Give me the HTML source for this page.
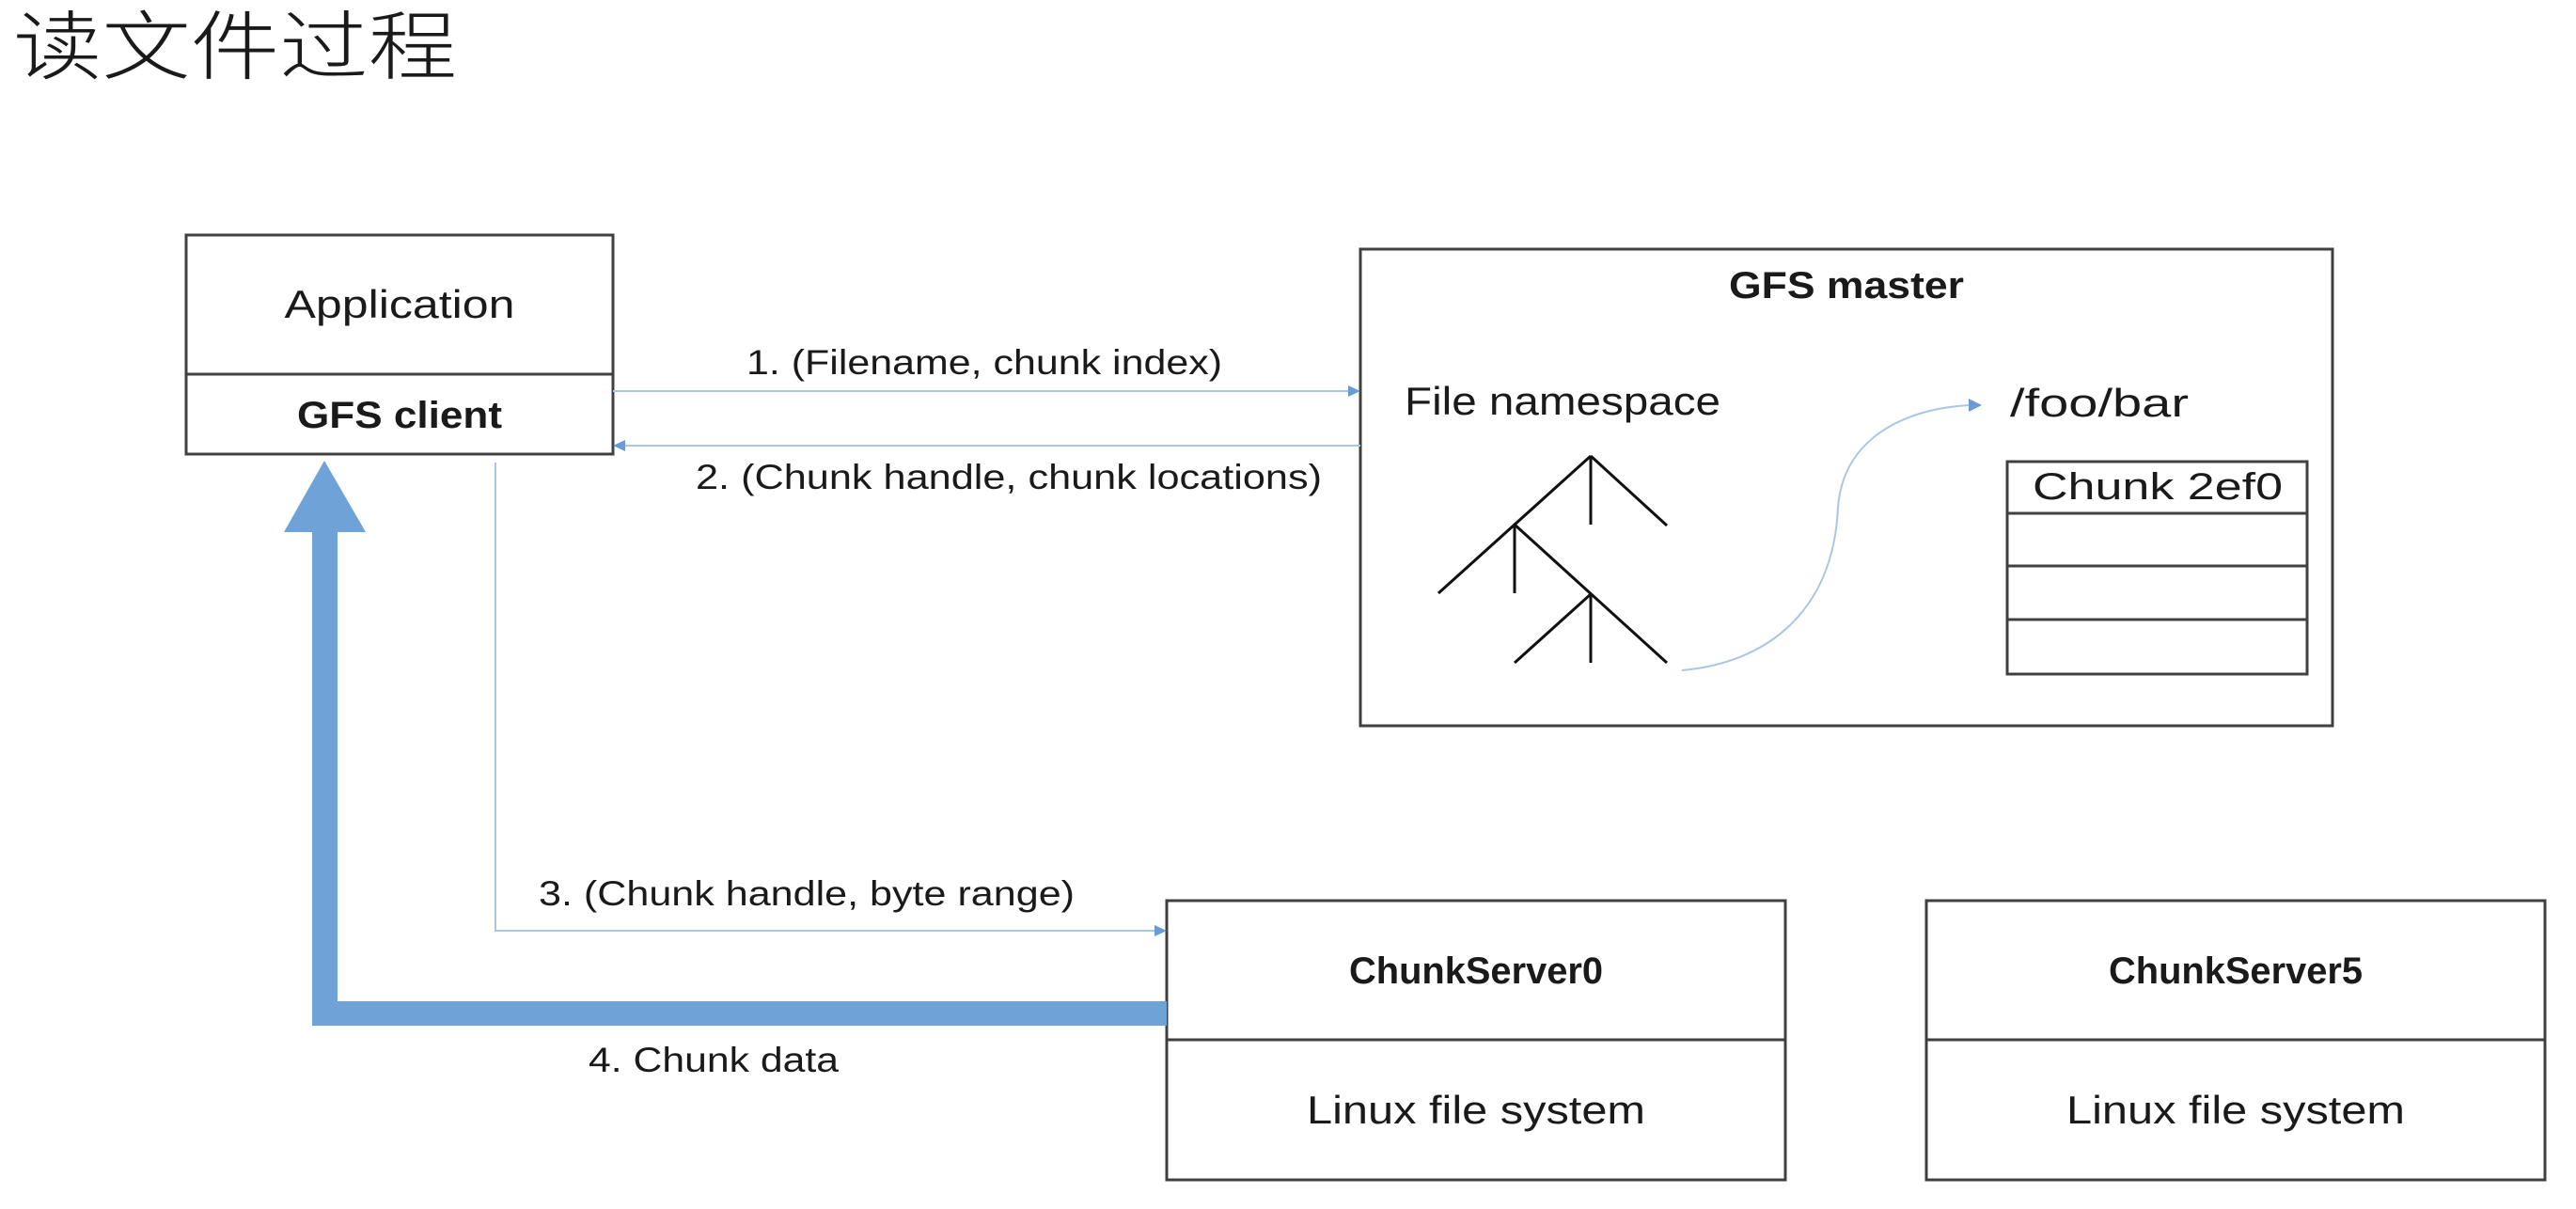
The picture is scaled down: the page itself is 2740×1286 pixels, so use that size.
<!DOCTYPE html>
<html><head><meta charset="utf-8"><style>
html,body{margin:0;padding:0;background:#fff;}
svg{display:block;}
text{font-family:"Liberation Sans","Noto Sans CJK SC",sans-serif;fill:#1a1a1a;}
</style></head><body>
<svg width="2740" height="1286" viewBox="0 0 2740 1286" xmlns="http://www.w3.org/2000/svg">
<text x="14" y="78" font-size="80" fill="#444" style="font-family:'Noto Sans CJK SC',sans-serif;font-weight:300" textLength="472" lengthAdjust="spacingAndGlyphs">读文件过程</text>

<g fill="none" stroke="#404040" stroke-width="3">
<rect x="198" y="250" width="454" height="233"/>
<line x1="198" y1="398" x2="652" y2="398"/>
<rect x="1447" y="265" width="1034" height="507"/>
<rect x="2135" y="491" width="319" height="226"/>
<line x1="2135" y1="546" x2="2454" y2="546"/>
<line x1="2135" y1="602" x2="2454" y2="602"/>
<line x1="2135" y1="659" x2="2454" y2="659"/>
<rect x="1241" y="958" width="658" height="297"/>
<line x1="1241" y1="1106" x2="1899" y2="1106"/>
<rect x="2049" y="958" width="658" height="297"/>
<line x1="2049" y1="1106" x2="2707" y2="1106"/>
</g>

<g stroke="#111" stroke-width="3" fill="none">
<line x1="1692" y1="485" x2="1530" y2="631"/>
<line x1="1692" y1="485" x2="1773" y2="559"/>
<line x1="1692" y1="485" x2="1692" y2="558"/>
<line x1="1611" y1="558" x2="1773" y2="705"/>
<line x1="1611" y1="558" x2="1611" y2="631"/>
<line x1="1692" y1="632" x2="1611" y2="705"/>
<line x1="1692" y1="632" x2="1692" y2="705"/>
</g>

<g stroke="#a9c6e6" stroke-width="2" fill="none">
<path d="M1789,713 C1880,705 1950,650 1955,540 C1960,470 2020,435 2095,431"/>
<line x1="652" y1="416" x2="1437" y2="416"/>
<line x1="662" y1="474" x2="1447" y2="474"/>
<polyline points="527,492 527,990 1230,990"/>
</g>
<g fill="#6a9bd2">
<polygon points="2108,431 2094,424 2094,438"/>
<polygon points="1447,416 1434,410 1434,422"/>
<polygon points="652,474 665,468 665,480"/>
<polygon points="1241,990 1228,984 1228,996"/>
</g>

<g fill="#6fa3d8">
<polygon points="345,490 302,566 389,566"/>
<rect x="332" y="564" width="27" height="527"/>
<rect x="332" y="1065" width="909" height="26"/>
</g>

<text x="425" y="338" font-size="42" text-anchor="middle" textLength="245" lengthAdjust="spacingAndGlyphs">Application</text>
<text x="425" y="455" font-size="40" font-weight="bold" text-anchor="middle" textLength="218" lengthAdjust="spacingAndGlyphs">GFS client</text>
<text x="1964" y="317" font-size="40" font-weight="bold" text-anchor="middle" textLength="250" lengthAdjust="spacingAndGlyphs">GFS master</text>
<text x="1494" y="441" font-size="42" textLength="336" lengthAdjust="spacingAndGlyphs">File namespace</text>
<text x="2138" y="443" font-size="42" textLength="190" lengthAdjust="spacingAndGlyphs">/foo/bar</text>
<text x="2162" y="531" font-size="40" textLength="266" lengthAdjust="spacingAndGlyphs">Chunk  2ef0</text>
<text x="794" y="398" font-size="37" textLength="506" lengthAdjust="spacingAndGlyphs">1. (Filename, chunk index)</text>
<text x="740" y="520" font-size="37" textLength="666" lengthAdjust="spacingAndGlyphs">2. (Chunk handle, chunk locations)</text>
<text x="573" y="963" font-size="37" textLength="570" lengthAdjust="spacingAndGlyphs">3. (Chunk handle, byte range)</text>
<text x="626" y="1140" font-size="37" textLength="266" lengthAdjust="spacingAndGlyphs">4. Chunk data</text>
<text x="1570" y="1046" font-size="40" font-weight="bold" text-anchor="middle" textLength="270" lengthAdjust="spacingAndGlyphs">ChunkServer0</text>
<text x="1570" y="1195" font-size="42" text-anchor="middle" textLength="360" lengthAdjust="spacingAndGlyphs">Linux file system</text>
<text x="2378" y="1046" font-size="40" font-weight="bold" text-anchor="middle" textLength="270" lengthAdjust="spacingAndGlyphs">ChunkServer5</text>
<text x="2378" y="1195" font-size="42" text-anchor="middle" textLength="360" lengthAdjust="spacingAndGlyphs">Linux file system</text>
</svg>
</body></html>
